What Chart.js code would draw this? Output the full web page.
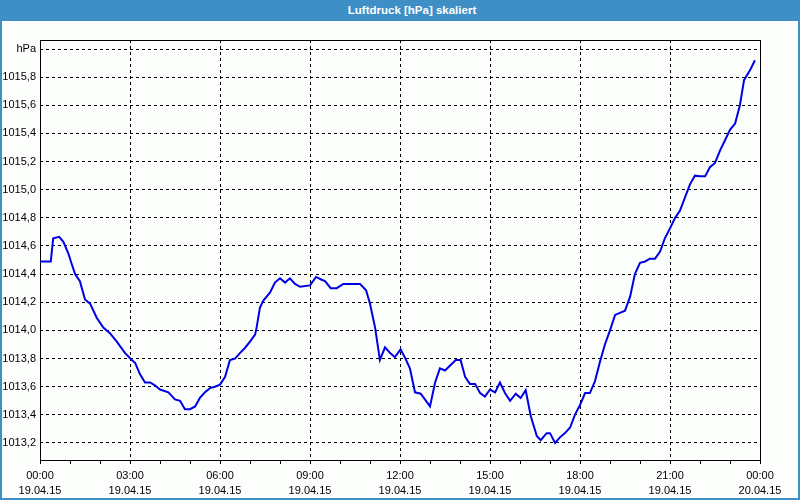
<!DOCTYPE html>
<html lang="de">
<head>
<meta charset="UTF-8">
<title>Luftdruck [hPa] skaliert</title>
<script src="https://cdn.jsdelivr.net/npm/chart.js"></script>
<style>
    html, body {
        margin: 0;
        padding: 0;
        background: #fcfefc;
    }
    #wrap {
        position: relative;
        width: 800px;
        height: 500px;
        overflow: hidden;
    }
    #chart {
        position: absolute;
        left: 0;
        top: 0;
    }
    #titlebar {
        position: absolute;
        left: 0;
        top: 0;
        width: 776px;
        height: 21px;
        padding-left: 24px;
        background: #3d8fc6;
        color: #ffffff;
        font: bold 11.5px "Liberation Sans", Arial, sans-serif;
        line-height: 21px;
        text-align: center;
    }
    #frame {
        position: absolute;
        left: 0;
        top: 0;
        width: 800px;
        height: 500px;
        box-sizing: border-box;
        border-left: 2px solid #3d8fc6;
        border-right: 2px solid #3d8fc6;
        border-bottom: 2px solid #3d8fc6;
        pointer-events: none;
    }
</style>
</head>
<body>
<div id="wrap">
    <canvas id="chart" width="800" height="500"></canvas>
    <div id="titlebar">Luftdruck [hPa] skaliert</div>
    <div id="frame"></div>
</div>
<script>
// time of day in hours since 19.04.15 00:00
const hours = [
    0, 0.36, 0.44, 0.64, 0.78, 0.94, 1.06, 1.17, 1.33, 1.5, 1.67, 1.89, 2.11, 2.33, 2.56, 2.83,
    3.06, 3.17, 3.33, 3.5, 3.67, 3.83, 4.0, 4.28, 4.5, 4.67, 4.83, 5.0, 5.17, 5.33, 5.5, 5.67, 5.83,
    6.0, 6.17, 6.33, 6.5, 6.67, 6.83, 7.0, 7.17, 7.22, 7.33, 7.44, 7.67, 7.83, 8.0, 8.17, 8.33, 8.5, 8.67,
    9.0, 9.2, 9.39, 9.5, 9.69, 9.89, 10.11, 10.33, 10.5, 10.67, 10.87, 11.0, 11.17, 11.33, 11.5, 11.67, 11.83,
    12.02, 12.17, 12.33, 12.5, 12.69, 13.0, 13.17, 13.33, 13.5, 13.67, 13.86, 14.02, 14.17, 14.33, 14.5, 14.67, 14.83,
    15.0, 15.17, 15.33, 15.5, 15.67, 15.86, 16.02, 16.19, 16.36, 16.56, 16.69, 16.89, 17.0, 17.17, 17.33, 17.5, 17.67, 17.83,
    18.0, 18.17, 18.33, 18.5, 18.67, 18.83, 19.0, 19.17, 19.33, 19.5, 19.67, 19.83, 20.0, 20.17, 20.33, 20.5, 20.67, 20.83,
    21.0, 21.17, 21.33, 21.5, 21.67, 21.83, 22.0, 22.17, 22.33, 22.5, 22.67, 22.83, 23.0, 23.17, 23.33, 23.47, 23.67, 23.83
];

// Luftdruck in hPa
const pressure = [
    1014.49, 1014.49, 1014.655, 1014.665, 1014.63, 1014.55, 1014.47, 1014.40, 1014.35, 1014.22, 1014.19, 1014.09, 1014.02, 1013.98, 1013.92, 1013.84,
    1013.79, 1013.77, 1013.69, 1013.63, 1013.63, 1013.61, 1013.58, 1013.56, 1013.51, 1013.50, 1013.44, 1013.44, 1013.46, 1013.52, 1013.56, 1013.59, 1013.60,
    1013.615, 1013.67, 1013.79, 1013.80, 1013.84, 1013.875, 1013.92, 1013.97, 1014.02, 1014.16, 1014.21, 1014.27, 1014.34, 1014.37, 1014.34, 1014.37, 1014.33, 1014.31,
    1014.32, 1014.38, 1014.36, 1014.35, 1014.30, 1014.30, 1014.33, 1014.33, 1014.33, 1014.33, 1014.285, 1014.19, 1014.02, 1013.79, 1013.88, 1013.84, 1013.81,
    1013.865, 1013.805, 1013.73, 1013.56, 1013.55, 1013.46, 1013.63, 1013.73, 1013.715, 1013.75, 1013.79, 1013.79, 1013.67, 1013.62, 1013.62, 1013.555, 1013.53,
    1013.58, 1013.56, 1013.63, 1013.555, 1013.50, 1013.55, 1013.52, 1013.575, 1013.39, 1013.25, 1013.22, 1013.27, 1013.27, 1013.20, 1013.24, 1013.27, 1013.31, 1013.40,
    1013.47, 1013.555, 1013.555, 1013.64, 1013.78, 1013.90, 1014.00, 1014.11, 1014.125, 1014.14, 1014.24, 1014.40, 1014.48, 1014.49, 1014.51, 1014.51, 1014.56, 1014.655,
    1014.725, 1014.80, 1014.85, 1014.945, 1015.04, 1015.10, 1015.095, 1015.095, 1015.16, 1015.19, 1015.28, 1015.35, 1015.425, 1015.47, 1015.60, 1015.78, 1015.85, 1015.92
];

// axis ticks
const yTicks = [1013.2, 1013.4, 1013.6, 1013.8, 1014.0, 1014.2, 1014.4, 1014.6, 1014.8, 1015.0, 1015.2, 1015.4, 1015.6, 1015.8, 1016.0];
const xTicks = [0, 1, 2, 3, 4, 5, 6, 7, 8, 9, 10, 11, 12, 13, 14, 15, 16, 17, 18, 19, 20, 21, 22, 23, 24];
const xTimeLabels = ['00:00', '03:00', '06:00', '09:00', '12:00', '15:00', '18:00', '21:00', '00:00'];
const xDateLabels = ['19.04.15', '19.04.15', '19.04.15', '19.04.15', '19.04.15', '19.04.15', '19.04.15', '19.04.15', '20.04.15'];
const yUnit = 'hPa';

const points = hours.map((h, i) => ({ x: h, y: pressure[i] }));

// solid black box around the plot area
const plotFrame = {
    id: 'plotFrame',
    beforeDatasetsDraw(chart) {
        const a = chart.chartArea;
        const ctx = chart.ctx;
        ctx.save();
        ctx.strokeStyle = '#000000';
        ctx.lineWidth = 1;
        ctx.strokeRect(Math.round(a.left) + 0.5, Math.round(a.top) + 0.5,
            Math.round(a.right - a.left), Math.round(a.bottom - a.top));
        ctx.restore();
    }
};

const font = { family: '"Liberation Sans", Arial, sans-serif', size: 11 };

new Chart(document.getElementById('chart'), {
    type: 'line',
    data: {
        datasets: [{
            data: points,
            borderColor: '#0000e6',
            borderWidth: 2,
            pointRadius: 0,
            tension: 0,
            fill: false
        }]
    },
    options: {
        responsive: false,
        animation: false,
        layout: { padding: { top: 40, left: 0, right: 40, bottom: 0 } },
        plugins: {
            legend: { display: false },
            tooltip: { enabled: false }
        },
        scales: {
            x: {
                type: 'linear',
                min: 0,
                max: 24,
                afterBuildTicks: scale => { scale.ticks = xTicks.map(v => ({ value: v })); },
                afterFit: scale => { scale.height = 40; },
                ticks: {
                    autoSkip: false,
                    maxRotation: 0,
                    color: '#000000',
                    font: { ...font, lineHeight: 1.4 },
                    padding: 4,
                    callback: v => (v % 3 === 0 ? [xTimeLabels[v / 3], xDateLabels[v / 3]] : '')
                },
                grid: {
                    color: ctx => (ctx.tick && ctx.tick.value % 3 === 0 && ctx.tick.value > 0 && ctx.tick.value < 24 ? '#000000' : 'rgba(0,0,0,0)'),
                    tickColor: '#000000',
                    tickLength: 4,
                    lineWidth: 1
                },
                border: { display: false, dash: [3, 3] }
            },
            y: {
                min: 1013.079,
                max: 1016.064,
                afterBuildTicks: scale => { scale.ticks = yTicks.map(v => ({ value: v })); },
                afterFit: scale => { scale.width = 40; },
                ticks: {
                    color: '#000000',
                    font: font,
                    padding: 4,
                    callback: v => (Math.abs(v - 1016.0) < 0.001 ? yUnit : v.toFixed(1).replace('.', ','))
                },
                grid: {
                    color: '#000000',
                    lineWidth: 1,
                    drawTicks: false
                },
                border: { display: false, dash: [3, 3] }
            }
        }
    },
    plugins: [plotFrame]
});
</script>
</body>
</html>
